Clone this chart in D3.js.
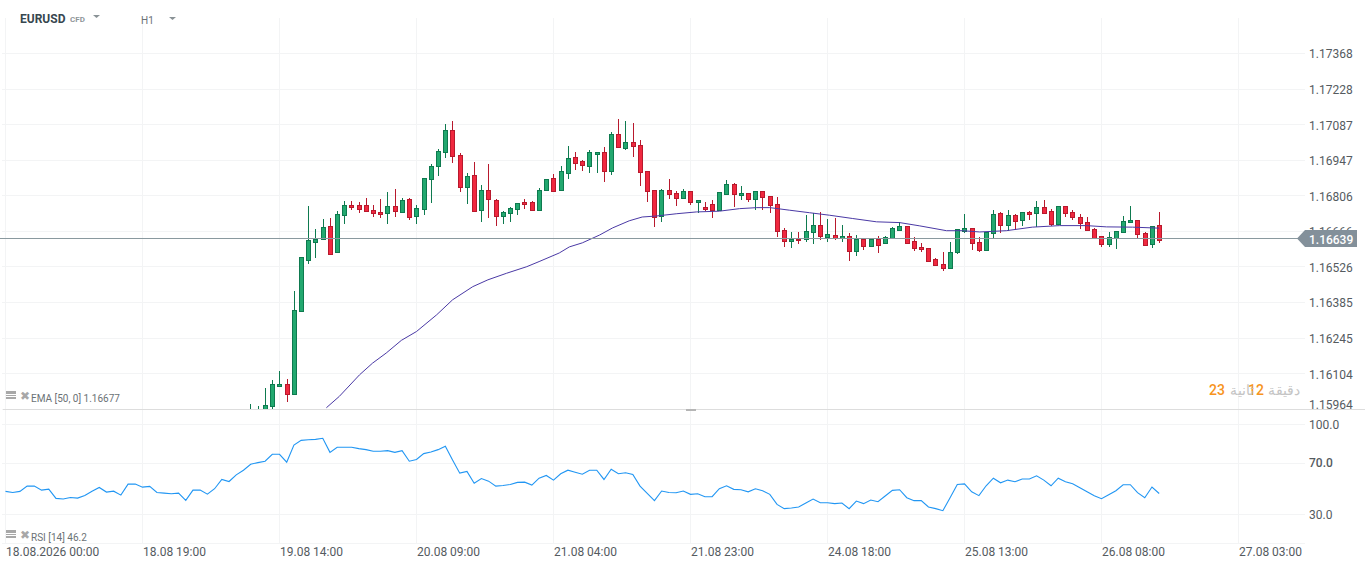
<html>
<head>
<meta charset="utf-8">
<style>
body { margin: 0; background: #fff; overflow: hidden; }
text { font-family: Roboto, sans-serif; }
.axis path, .axis line { display: none; }
</style>
</head>
<body>
<svg id="world"></svg>
<script src="https://cdnjs.cloudflare.com/ajax/libs/d3/7.8.5/d3.min.js"></script>
<script type="text/javascript">

var priceTicks = [1.17368,1.17228,1.17087,1.16947,1.16806,1.16666,1.16526,1.16385,1.16245,1.16104,1.15964]
var rsiTicks = [100,70,30]
var dateTicks = ["18.08.2026 00:00","18.08 19:00","19.08 14:00","20.08 09:00","21.08 04:00","21.08 23:00","24.08 18:00","25.08 13:00","26.08 08:00","27.08 03:00"]

var lastPrice = 1.16639
var firstCandle = 34 // older candles are under the pane edge

var candleOpen = [
1.15927,1.15934,1.15954,1.15974,1.16052,1.16062,1.16022,1.16349,1.16551,1.16624,
1.16633,1.16685,1.16582,1.16728,1.16768,1.16768,1.16768,1.16748,1.16740,1.16736,
1.16764,1.16740,1.16791,1.16724,1.16752,1.16870,1.16921,1.16977,1.17063,1.16965,
1.16839,1.16886,1.16748,1.16827,1.16787,1.16724,1.16736,1.16752,1.16779,1.16779,
1.16748,1.16827,1.16874,1.16827,1.16894,1.16957,1.16941,1.16921,1.16969,1.16977,
1.16902,1.17048,1.16992,1.17016,1.17004,1.16902,1.16827,1.16726,1.16827,1.16815,
1.16795,1.16823,1.16779,1.16760,1.16771,1.16747,1.16811,1.16850,1.16807,1.16815,
1.16791,1.16823,1.16803,1.16771,1.16669,1.16626,1.16633,1.16633,1.16661,1.16689,
1.16641,1.16649,1.16639,1.16645,1.16585,1.16633,1.16605,1.16633,1.16618,1.16637,
1.16668,1.16685,1.16626,1.16602,1.16598,1.16555,1.16535,1.16519,1.16582,1.16665,
1.16677,1.16622,1.16590,1.16657,1.16736,1.16689,1.16728,1.16708,1.16740,1.16736,
1.16760,1.16744,1.16693,1.16764,1.16740,1.16720,1.16700,1.16673,1.16645,1.16614,
1.16637,1.16661,1.16700,1.16708,1.16657,1.16614,1.16689]

var candleHigh = [
1.15984,1.15974,1.16047,1.16079,1.16114,1.16081,1.16428,1.16564,1.16765,1.16674,
1.16714,1.16718,1.16744,1.16783,1.16783,1.16779,1.16795,1.16768,1.16793,1.16820,
1.16831,1.16795,1.16795,1.16768,1.16874,1.16929,1.16988,1.17088,1.17100,1.16973,
1.16894,1.16937,1.16846,1.16929,1.16791,1.16744,1.16760,1.16778,1.16791,1.16783,
1.16835,1.16870,1.16890,1.16921,1.17000,1.16977,1.16945,1.16984,1.16977,1.16996,
1.17055,1.17107,1.17099,1.17091,1.17024,1.16902,1.16827,1.16831,1.16871,1.16823,
1.16831,1.16823,1.16787,1.16779,1.16787,1.16819,1.16866,1.16854,1.16842,1.16815,
1.16823,1.16823,1.16803,1.16799,1.16677,1.16661,1.16661,1.16728,1.16735,1.16740,
1.16712,1.16716,1.16690,1.16657,1.16649,1.16633,1.16633,1.16645,1.16645,1.16681,
1.16701,1.16685,1.16641,1.16618,1.16598,1.16558,1.16583,1.16622,1.16673,1.16733,
1.16677,1.16641,1.16661,1.16749,1.16740,1.16748,1.16733,1.16740,1.16744,1.16783,
1.16787,1.16752,1.16764,1.16764,1.16748,1.16732,1.16720,1.16677,1.16645,1.16661,
1.16665,1.16724,1.16764,1.16708,1.16661,1.16685,1.16740]

var candleLow = [
1.15921,1.15927,1.15941,1.15960,1.16048,1.15989,1.16022,1.16349,1.16534,1.16561,
1.16633,1.16574,1.16582,1.16695,1.16747,1.16735,1.16744,1.16723,1.16719,1.16695,
1.16723,1.16740,1.16711,1.16695,1.16727,1.16778,1.16881,1.16952,1.16936,1.16821,
1.16773,1.16744,1.16703,1.16719,1.16687,1.16695,1.16703,1.16727,1.16754,1.16748,
1.16748,1.16827,1.16823,1.16827,1.16873,1.16908,1.16904,1.16896,1.16896,1.16861,
1.16888,1.16996,1.16987,1.16957,1.16845,1.16782,1.16683,1.16703,1.16794,1.16766,
1.16795,1.16770,1.16735,1.16743,1.16719,1.16743,1.16811,1.16762,1.16790,1.16779,
1.16750,1.16750,1.16735,1.16644,1.16601,1.16597,1.16616,1.16624,1.16616,1.16632,
1.16624,1.16631,1.16624,1.16549,1.16569,1.16589,1.16601,1.16577,1.16618,1.16637,
1.16668,1.16616,1.16585,1.16581,1.16545,1.16526,1.16506,1.16519,1.16574,1.16656,
1.16589,1.16581,1.16590,1.16637,1.16657,1.16666,1.16670,1.16687,1.16711,1.16683,
1.16732,1.16685,1.16693,1.16720,1.16708,1.16673,1.16665,1.16633,1.16601,1.16602,
1.16593,1.16661,1.16696,1.16633,1.16606,1.16597,1.16620]

var candleClose = [
1.15954,1.15954,1.15979,1.16062,1.16062,1.16022,1.16353,1.16564,1.16629,1.16633,
1.16681,1.16574,1.16732,1.16768,1.16760,1.16754,1.16744,1.16735,1.16731,1.16764,
1.16744,1.16787,1.16720,1.16756,1.16874,1.16921,1.16980,1.17063,1.16961,1.16839,
1.16882,1.16744,1.16827,1.16791,1.16724,1.16740,1.16756,1.16775,1.16771,1.16748,
1.16827,1.16870,1.16823,1.16902,1.16953,1.16933,1.16925,1.16977,1.16977,1.16902,
1.17048,1.16996,1.17016,1.17000,1.16898,1.16823,1.16720,1.16827,1.16810,1.16795,
1.16823,1.16779,1.16787,1.16752,1.16747,1.16819,1.16850,1.16811,1.16815,1.16791,
1.16823,1.16799,1.16768,1.16665,1.16626,1.16633,1.16630,1.16665,1.16689,1.16645,
1.16653,1.16637,1.16645,1.16585,1.16633,1.16606,1.16633,1.16610,1.16641,1.16677,
1.16685,1.16620,1.16597,1.16594,1.16549,1.16531,1.16519,1.16582,1.16673,1.16677,
1.16618,1.16590,1.16661,1.16732,1.16689,1.16728,1.16704,1.16740,1.16732,1.16760,
1.16736,1.16693,1.16764,1.16736,1.16720,1.16696,1.16669,1.16637,1.16614,1.16641,
1.16665,1.16704,1.16708,1.16653,1.16610,1.16685,1.16629]

// ema at these bar positions
var emaBars = [44.5,46.3,49.1,50.9,52.8,54.9,57,59.8,62,64.8,66.9,69.5,72.3,74,76.8,78.2,80,82.4,84.2,86.5,88.3,90.3,93.1,95.8,99,101.8,104.2,106,108.7,111.5,114.3,117.5,120.8,124,126.8,130.5,132.7,135.1,138.8,142.4,146.2,149.9,152.7,156.3,160]
var emaValues = [1.15968,1.16013,1.16098,1.16144,1.16184,1.16234,1.16269,1.16335,1.16394,1.16446,1.16473,1.16499,1.16525,1.16545,1.16579,1.16603,1.16619,1.16650,1.16678,1.16706,1.16721,1.16725,1.16734,1.16741,1.16744,1.16754,1.16758,1.16758,1.16748,1.16738,1.16728,1.16715,1.16702,1.16699,1.16686,1.16667,1.16667,1.16662,1.16667,1.16681,1.16687,1.16687,1.16682,1.16681,1.16677]

var rsiValues = [
47.8,47.0,47.8,51.9,51.9,48.8,49.6,42.4,41.9,43.1,42.6,44.7,48.0,50.9,47.3,48.0,44.9,53.5,53.5,51.1,
51.7,47.0,46.5,46.0,46.5,40.8,48.8,48.8,45.7,49.9,57.1,55.5,60.7,64.3,68.9,70.2,71.3,76.7,76.7,70.5,
83.9,87.5,88.0,88.3,89.1,78.2,82.1,82.1,82.1,81.1,80.3,79.0,79.0,79.5,78.2,79.5,71.3,72.6,77.2,78.5,
80.3,82.9,72.3,62.0,63.3,54.2,57.8,55.8,51.9,52.4,53.2,54.8,55.0,52.7,58.1,60.2,56.6,61.5,64.3,62.7,
61.2,64.3,64.3,57.1,65.1,61.5,62.3,61.0,51.9,46.3,40.6,48.1,47.0,46.8,48.1,45.5,46.0,43.7,43.7,49.9,
52.2,49.4,49.1,47.5,49.9,48.3,45.5,37.7,34.4,34.9,35.7,38.8,41.9,39.0,39.0,38.3,38.8,34.4,40.3,38.3,
41.1,39.8,44.2,48.6,49.1,42.9,40.6,40.6,35.7,34.4,32.8,42.9,53.2,53.7,47.5,44.5,52.2,58.1,54.5,56.6,
55.3,57.4,57.4,59.9,56.6,52.2,58.1,55.3,53.7,50.6,47.5,44.5,42.1,45.2,48.3,53.0,53.0,46.8,42.9,51.2,46.2]

var width = 1368, height = 569

var world = d3.select("#world").attr("width", width).attr("height", height)

var x = d3.scaleLinear().domain([0, 19]).range([5.5, 142.5])
var y = d3.scaleLinear().domain([1.17087, 1.16104]).range([124.3, 373.3])
var yRsi = d3.scaleLinear().domain([100, 30]).range([424.3, 514.3])

var snap = function(v) { return Math.floor(v + 0.3) + 0.5 }
var snapY = function(v) { return Math.round(v) + 0.5 }

var gridColor = "#f3f4f5"
var textColor = "#555b5f"

world.append("defs").append("clipPath").attr("id", "pricePane")
  .append("rect").attr("x", 0).attr("y", 0).attr("width", width).attr("height", 409)

// grid
var grid = world.append("g").attr("stroke", gridColor).attr("stroke-width", 1)
grid.selectAll(".v").data(dateTicks).enter().append("line")
  .attr("x1", function(d, i) { return snap(x(i * 19)) })
  .attr("x2", function(d, i) { return snap(x(i * 19)) })
  .attr("y1", 18).attr("y2", 543)
grid.selectAll(".h").data(priceTicks).enter().append("line")
  .attr("x1", 2).attr("x2", 1305)
  .attr("y1", function(d) { return snapY(y(d)) })
  .attr("y2", function(d) { return snapY(y(d)) })
grid.selectAll(".r").data(rsiTicks).enter().append("line")
  .attr("x1", 2).attr("x2", 1305)
  .attr("y1", function(d) { return snapY(yRsi(d)) })
  .attr("y2", function(d) { return snapY(yRsi(d)) })
world.append("line").attr("x1", 2).attr("x2", 1305).attr("y1", 543.5).attr("y2", 543.5).attr("stroke", gridColor)

// price pane
var pane = world.append("g").attr("clip-path", "url(#pricePane)")

var candles = pane.selectAll(".candle").data(candleOpen).enter().append("g")
  .attr("class", "candle")
  .attr("transform", function(d, i) { return "translate(" + snap(x(firstCandle + i)) + ",0)" })

var up = function(i) { return candleClose[i] >= candleOpen[i] }

candles.append("line")
  .attr("y1", function(d, i) { return Math.round(y(candleHigh[i])) })
  .attr("y2", function(d, i) { return Math.round(y(candleLow[i])) })
  .attr("stroke", function(d, i) { return up(i) ? "#0e7a4f" : "#b8192d" })
  .attr("shape-rendering", "crispEdges")

candles.append("rect")
  .attr("x", -2)
  .attr("width", 4)
  .attr("y", function(d, i) { return snapY(y(Math.max(candleOpen[i], candleClose[i]))) })
  .attr("height", function(d, i) {
    return Math.max(1, snapY(y(Math.min(candleOpen[i], candleClose[i]))) - snapY(y(Math.max(candleOpen[i], candleClose[i]))))
  })
  .attr("fill", function(d, i) { return up(i) ? "#22a86f" : "#f0283f" })
  .attr("stroke", function(d, i) { return up(i) ? "#0e7a4f" : "#b8192d" })
  .attr("shape-rendering", "crispEdges")

var emaLine = d3.line()
  .x(function(d, i) { return x(emaBars[i]) })
  .y(function(d) { return y(d) })

pane.append("path").datum(emaValues)
  .attr("d", emaLine)
  .attr("fill", "none")
  .attr("stroke", "#4a39a5")
  .attr("stroke-width", 1)

// last price line
world.append("line")
  .attr("x1", 0).attr("x2", 1298)
  .attr("y1", snapY(y(lastPrice))).attr("y2", snapY(y(lastPrice)))
  .attr("stroke", "#8a999f")

// separator between panes
world.append("line").attr("x1", 3).attr("x2", 1365).attr("y1", 409.5).attr("y2", 409.5).attr("stroke", "#dddddd")
world.append("rect").attr("x", 686).attr("y", 409).attr("width", 10).attr("height", 2).attr("fill", "#b5b5b5")

// rsi
var rsiLine = d3.line()
  .x(function(d, i) { return x(i) })
  .y(function(d) { return yRsi(d) })

world.append("path").datum(rsiValues)
  .attr("d", rsiLine)
  .attr("fill", "none")
  .attr("stroke", "#2196f3")
  .attr("stroke-width", 1.1)

// axes
var priceAxis = d3.axisRight(y)
  .tickValues(priceTicks)
  .tickFormat(d3.format(".5f"))
  .tickSize(0).tickPadding(0)

var priceG = world.append("g").attr("class", "axis").attr("transform", "translate(1309,1)").call(priceAxis)
priceG.selectAll("text").attr("font-size", 12).attr("font-family", "Roboto").attr("fill", textColor)
// bottom label is pushed up to stay inside its pane
priceG.selectAll("text").filter(function(d) { return d === 1.15964 }).attr("y", -5)

var rsiAxis = d3.axisRight(yRsi)
  .tickValues(rsiTicks)
  .tickFormat(d3.format(".1f"))
  .tickSize(0).tickPadding(0)

var rsiG = world.append("g").attr("class", "axis").attr("transform", "translate(1309,0)").call(rsiAxis)
rsiG.selectAll("text").attr("font-size", 12).attr("font-family", "Roboto").attr("fill", textColor)
rsiG.selectAll("text").filter(function(d) { return d === 70 }).attr("font-weight", 500)

var dateAxis = d3.axisBottom(x)
  .tickValues(dateTicks.map(function(d, i) { return i * 19 }))
  .tickFormat(function(d) { return dateTicks[d / 19] })
  .tickSize(0).tickPadding(0)

var dateG = world.append("g").attr("class", "axis").attr("transform", "translate(0,547)").call(dateAxis)
dateG.selectAll("text").attr("font-size", 12).attr("font-family", "Roboto").attr("fill", textColor)
  .attr("text-anchor", "start")

// last price tag
world.append("path")
  .attr("d", d3.line()([[1297, 238.5], [1305, 230], [1357, 230], [1357, 247], [1305, 247]]) + "Z")
  .attr("fill", "#83909a")
world.append("text").attr("x", 1309).attr("y", 243.5).attr("font-size", 12).attr("font-weight", 500)
  .attr("fill", "#fff").text(d3.format(".5f")(lastPrice))

// header
var label = function(px, py, size, color, str, weight) {
  return world.append("text").attr("x", px).attr("y", py).attr("font-size", size)
    .attr("fill", color).attr("font-weight", weight || 400).text(str)
}
var caret = function(px, py) {
  world.append("path")
    .attr("d", d3.line()([[px, py], [px + 7, py], [px + 3.5, py + 3]]) + "Z")
    .attr("fill", "#8a9296")
}
label(20, 23, 12, "#37474f", "EURUSD", 700)
label(70, 22, 8, "#8f969a", "CFD", 700)
caret(93, 15)
label(141, 24, 10, "#6b7276", "H1")
caret(169, 17)

// legend rows
var legendIcon = function(px, py) {
  world.append("rect").attr("x", px).attr("y", py).attr("width", 10).attr("height", 3).attr("fill", "#a8a8a8")
  world.append("rect").attr("x", px).attr("y", py + 4).attr("width", 10).attr("height", 1).attr("fill", "#a8a8a8")
  world.append("rect").attr("x", px).attr("y", py + 6).attr("width", 10).attr("height", 2).attr("fill", "#a8a8a8")
  world.append("text").attr("x", px + 13.5).attr("y", py + 9).attr("font-size", 12)
    .attr("font-family", "DejaVu Sans").attr("fill", "#a8a8a8").text("\u2716")
}
legendIcon(6, 391)
label(31, 402, 10, "#6b7276", "EMA [50, 0] 1.16677")
legendIcon(6, 530)
label(31, 541, 10, "#6b7276", "RSI [14] 46.2")

// countdown, pieces overlap like in the source
label(1209, 395, 14, "#f7941d", "23", 500)
label(1264, 395, 14, "#f7941d", "12", 500).attr("text-anchor", "end")
label(1254, 395, 14, "#c4c4c4", "\u062b\u0627\u0646\u064a\u0629").attr("text-anchor", "end").attr("font-family", "DejaVu Sans")
label(1300, 395, 14, "#c4c4c4", "\u062f\u0642\u064a\u0642\u0629").attr("text-anchor", "end").attr("font-family", "DejaVu Sans")

</script>
</body>
</html>
